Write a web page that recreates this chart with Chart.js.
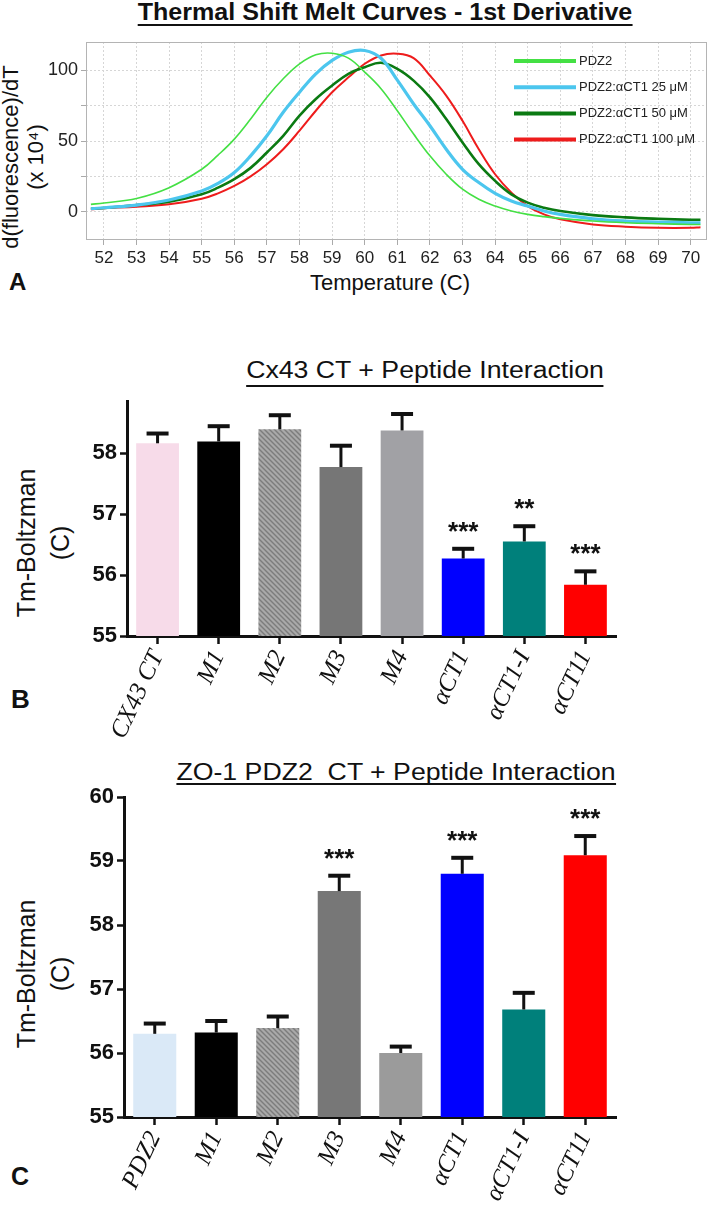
<!DOCTYPE html>
<html>
<head>
<meta charset="utf-8">
<script src="https://cdn.jsdelivr.net/npm/chart.js@4.4.1/dist/chart.umd.min.js"></script>
<style>
  body { margin: 0; width: 709px; height: 1215px; position: relative; background: #fff; overflow: hidden;
         font-family: 'Liberation Sans', Arial, sans-serif; color: #111; }
  canvas { position: absolute; left: 0; }
  .ttl { position: absolute; white-space: pre; line-height: 22px; border-bottom: 2px solid #111; }
  .lab { position: absolute; white-space: nowrap; text-align: center; transform: translate(-50%, -50%) rotate(-90deg); }
  .pan { position: absolute; font-weight: bold; }
</style>
</head>
<body>
<div class="ttl" style="left:385px; top:1px; padding-bottom:1px; font-size:23px; font-weight:bold; transform: translateX(-50%) scaleX(1.09);">Thermal Shift Melt Curves - 1st Derivative</div>
<div class="lab" style="left:23px; top:157px; font-size:22px; line-height:25px;">d(fluorescence)/dT<br>(x 10⁴)</div>
<div class="lab" style="left:390px; top:283px; font-size:22px; transform: translate(-50%, -50%);">Temperature (C)</div>
<div class="pan" style="left:9px; top:268px; font-size:24px;">A</div>

<div class="ttl" style="left:425px; top:359px; padding-bottom:4px; font-size:23px; transform: translateX(-50%) scaleX(1.16);">Cx43 CT + Peptide Interaction</div>
<div class="lab" style="left:43px; top:543px; font-size:25px; line-height:34px;">Tm-Boltzman<br>(C)</div>
<div class="pan" style="left:11px; top:684px; font-size:26px;">B</div>

<div class="ttl" style="left:396px; top:761px; padding-bottom:0px; font-size:23px; transform: translateX(-50%) scaleX(1.16);">ZO-1 PDZ2  CT + Peptide Interaction</div>
<div class="lab" style="left:43px; top:974px; font-size:25px; line-height:34px;">Tm-Boltzman<br>(C)</div>
<div class="pan" style="left:11px; top:1162px; font-size:25px;">C</div>

<canvas id="cA" width="709" height="300" style="top:0px;"></canvas>
<canvas id="cB" width="709" height="385" style="top:385px;"></canvas>
<canvas id="cC" width="709" height="435" style="top:780px;"></canvas>

<script>
// ---- panel A: melt curve derivatives ----
const temps = [51.6, 52, 53, 54, 55, 55.5, 56, 56.5, 57, 57.5, 58, 58.5, 59, 59.5, 60, 60.5,
               61, 61.5, 62, 62.5, 63, 63.5, 64, 64.5, 65, 65.5, 66, 67, 68, 69, 70, 70.3];
const pdz2  = [5.2, 6.2, 9.4, 17, 30, 40, 51.3, 65.5, 81, 94, 104.6, 111, 112.1, 108.6, 98.7, 87,
               71.4, 54.9, 39.5, 26.5, 15.9, 8.8, 4, 0.5, -1.9, -3.5, -4.7, -6.6, -7.8, -8.5, -9, -9];
const ct25  = [2.1, 2.8, 4.7, 8.3, 14.7, 20, 27.7, 39.5, 53.7, 70.3, 84.5, 97.5, 107, 112.8, 114, 108.5,
               93, 76.2, 60.8, 44.2, 30, 20.6, 13, 7.6, 4, 0.5, -1.9, -5, -6.6, -7.3, -7.8, -7.8];
const ct50  = [2.1, 2.6, 4.7, 7.1, 12.3, 17, 23, 31, 41.9, 53.7, 68, 79.7, 89.2, 97.5, 102.2, 105.3,
               101, 92.7, 80.9, 65.5, 49, 33.6, 21.8, 12.3, 6.4, 2.8, 0.5, -2.4, -4, -5, -5.7, -5.7];
const ct100 = [1.7, 2.4, 3.5, 5.2, 9.2, 13, 18.2, 25, 33.6, 44.2, 57.3, 71.4, 84.5, 95, 104.6, 110.5,
               111.7, 108.6, 96.3, 82.1, 64.3, 44.2, 26.5, 13.5, 4, -1.9, -5.4, -9, -10.6, -11.4, -11.4, -10.9];
const seriesNames = ['PDZ2', 'PDZ2:αCT1 25 μM', 'PDZ2:αCT1 50 μM', 'PDZ2:αCT1 100 μM'];
const tempTicks = [52, 53, 54, 55, 56, 57, 58, 59, 60, 61, 62, 63, 64, 65, 66, 67, 68, 69, 70];
const derivTicks = [0, 25, 50, 75, 100];

// ---- panels B and C: Tm bars ----
const catsB = ['CX43 CT', 'M1', 'M2', 'M3', 'M4', 'αCT1', 'αCT1-I', 'αCT11'];
const tmB   = [58.16, 58.19, 58.39, 57.77, 58.37, 56.27, 56.55, 55.84];
const errB  = [0.16, 0.25, 0.23, 0.35, 0.27, 0.16, 0.25, 0.22];
const sigB  = ['', '', '', '', '', '***', '**', '***'];
const ticksB = [55, 56, 57, 58];

const catsC = ['PDZ2', 'M1', 'M2', 'M3', 'M4', 'αCT1', 'αCT1-I', 'αCT11'];
const tmC   = [56.30, 56.32, 56.39, 58.53, 56.00, 58.80, 56.68, 59.09];
const errC  = [0.16, 0.18, 0.18, 0.24, 0.10, 0.25, 0.26, 0.30];
const sigC  = ['', '', '', '***', '', '***', '', '***'];
const ticksC = [55, 56, 57, 58, 59, 60];

const SANS = "'Liberation Sans', Arial, sans-serif";
const SERIF = "'Liberation Serif', 'DejaVu Serif', serif";

function hatch(bg, fg) {
  const c = document.createElement('canvas');
  c.width = 5; c.height = 5;
  const g = c.getContext('2d');
  g.fillStyle = bg; g.fillRect(0, 0, 5, 5);
  g.strokeStyle = fg; g.lineWidth = 1.4;
  g.beginPath();
  g.moveTo(0, 0); g.lineTo(5, 5);
  g.moveTo(-1, 4); g.lineTo(1, 6);
  g.moveTo(4, -1); g.lineTo(6, 1);
  g.stroke();
  return g.createPattern(c, 'repeat');
}

// gray frame around plot A
const frame = {
  id: 'frame',
  afterDraw(chart) {
    const { ctx, chartArea: a } = chart;
    ctx.save();
    ctx.strokeStyle = '#b4b4b4'; ctx.lineWidth = 1;
    ctx.strokeRect(a.left + 0.5, a.top + 0.5, a.right - a.left - 1, a.bottom - a.top - 1);
    ctx.restore();
  }
};

// legend drawn inside the plot, upper right
const insideLegend = {
  id: 'insideLegend',
  afterDatasetsDraw(chart) {
    const { ctx, chartArea: a } = chart;
    ctx.save();
    ctx.font = '13px ' + SANS;
    ctx.textBaseline = 'middle';
    chart.data.datasets.forEach((ds, i) => {
      const y = a.top + 19 + i * 26.2;
      const x0 = a.right - 193;
      ctx.strokeStyle = ds.borderColor; ctx.lineWidth = 4;
      ctx.beginPath(); ctx.moveTo(x0, y); ctx.lineTo(x0 + 62, y); ctx.stroke();
      ctx.fillStyle = '#222';
      ctx.fillText(ds.label, x0 + 65, y);
    });
    ctx.restore();
  }
};

// upward error whiskers and significance stars
const errorBars = {
  id: 'errorBars',
  afterDatasetsDraw(chart, args, opts) {
    const { ctx } = chart;
    const y = chart.scales.y;
    const meta = chart.getDatasetMeta(0);
    const vals = chart.data.datasets[0].data;
    ctx.save();
    ctx.strokeStyle = '#111'; ctx.fillStyle = '#111';
    ctx.font = 'bold 26px ' + SANS;
    ctx.textAlign = 'center';
    meta.data.forEach((bar, i) => {
      const top = y.getPixelForValue(vals[i] + opts.errors[i]);
      ctx.lineWidth = 3;
      ctx.beginPath(); ctx.moveTo(bar.x, bar.y); ctx.lineTo(bar.x, top); ctx.stroke();
      ctx.lineWidth = 4;
      ctx.beginPath(); ctx.moveTo(bar.x - 11, top); ctx.lineTo(bar.x + 11, top); ctx.stroke();
      if (opts.stars[i]) ctx.fillText(opts.stars[i], bar.x, top - 9);
    });
    ctx.restore();
  }
};

function xy(vals) { return temps.map((t, i) => ({ x: t, y: vals[i] })); }

new Chart(document.getElementById('cA'), {
  type: 'line',
  data: {
    datasets: [
      { label: seriesNames[0], data: xy(pdz2), borderColor: '#44e044', borderWidth: 1.6 },
      { label: seriesNames[1], data: xy(ct25), borderColor: '#4cc6ee', borderWidth: 3.2 },
      { label: seriesNames[2], data: xy(ct50), borderColor: '#0b7a12', borderWidth: 2.6 },
      { label: seriesNames[3], data: xy(ct100), borderColor: '#ee1c1c', borderWidth: 2 }
    ]
  },
  options: {
    responsive: false,
    animation: false,
    elements: { point: { radius: 0 }, line: { tension: 0.4 } },
    layout: { padding: { top: 42, right: 2, left: 0, bottom: 0 } },
    plugins: { legend: { display: false }, tooltip: { enabled: false } },
    scales: {
      x: {
        type: 'linear', min: 51.45, max: 70.5,
        afterBuildTicks: s => { s.ticks = tempTicks.map(v => ({ value: v })); },
        afterFit: s => { s.height = 60; },
        grid: { color: '#d6d6d6', tickLength: 5, tickColor: '#aaa' },
        border: { display: false, dash: [2, 2] },
        ticks: { color: '#222', font: { family: SANS, size: 17 }, padding: 3, maxRotation: 0 }
      },
      y: {
        min: -20, max: 120,
        afterBuildTicks: s => { s.ticks = derivTicks.map(v => ({ value: v })); },
        afterFit: s => { s.width = 86; },
        grid: { color: '#d6d6d6', tickLength: 5, tickColor: '#aaa' },
        border: { display: false, dash: [2, 2] },
        ticks: { color: '#222', font: { family: SANS, size: 18 }, padding: 3,
                 callback: v => (v % 50 === 0 ? v : '') }
      }
    }
  },
  plugins: [frame, insideLegend]
});

function barChart(id, cats, vals, errs, stars, colors, yTicks, yMax, yWidth, xHeight, padTop) {
  return new Chart(document.getElementById(id), {
    type: 'bar',
    data: {
      labels: cats,
      datasets: [{ data: vals, backgroundColor: colors, borderWidth: 0,
                   categoryPercentage: 1, barPercentage: 0.7 }]
    },
    options: {
      responsive: false,
      animation: false,
      layout: { padding: { top: padTop, right: 93, left: 0, bottom: 0 } },
      plugins: { legend: { display: false }, tooltip: { enabled: false },
                 errorBars: { errors: errs, stars: stars } },
      scales: {
        x: {
          afterFit: s => { s.height = xHeight; },
          grid: { drawOnChartArea: false, offset: false, tickLength: 8, tickWidth: 2.5, tickColor: '#111' },
          border: { color: '#111', width: 3 },
          ticks: { color: '#111', autoSkip: false, minRotation: 65, maxRotation: 65, padding: 2,
                   font: { family: SERIF, style: 'italic', size: 25 } }
        },
        y: {
          min: 55, max: yMax,
          afterBuildTicks: s => { s.ticks = yTicks.map(v => ({ value: v })); },
          afterFit: s => { s.width = yWidth; },
          grid: { drawOnChartArea: false, tickLength: 7, tickWidth: 2.5, tickColor: '#111' },
          border: { color: '#111', width: 3 },
          ticks: { color: '#111', padding: 3, font: { family: SANS, size: 22, weight: 'bold' } }
        }
      }
    },
    plugins: [errorBars]
  });
}

const stripes = hatch('#a9a9a9', '#7c7c7c');
const colorsB = ['#f7dbe9', '#000000', stripes, '#767676', '#a1a1a5', '#0000ff', '#00807b', '#ff0000'];
const colorsC = ['#dae9f7', '#000000', stripes, '#777777', '#9b9b9b', '#0000ff', '#00807b', '#ff0000'];

barChart('cB', catsB, tmB, errB, sigB, colorsB, ticksB, 58.85, 127, 134, 11);
barChart('cC', catsC, tmC, errC, sigC, colorsC, ticksC, 60, 124, 98, 17);
</script>
</body>
</html>
